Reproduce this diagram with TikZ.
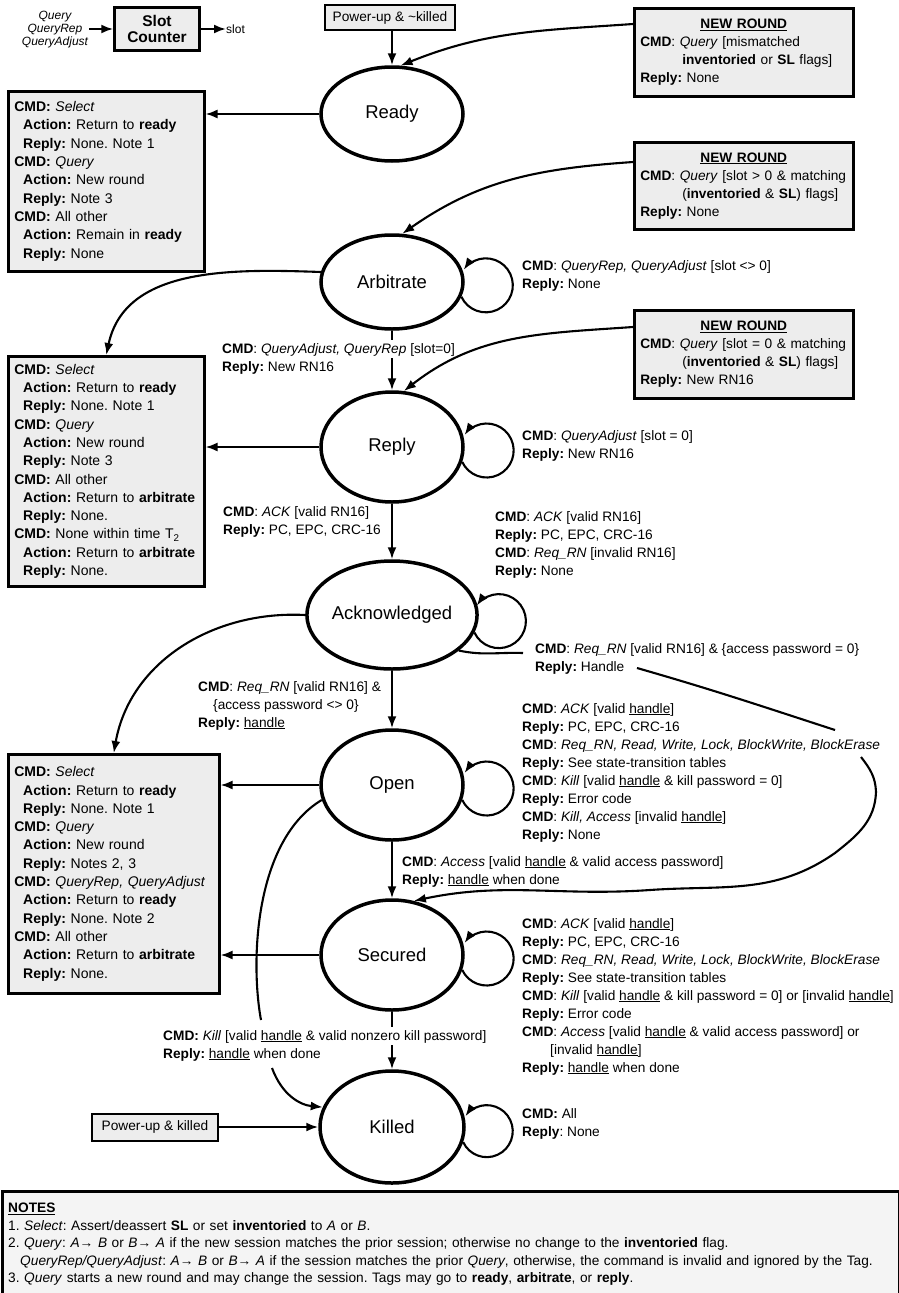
\documentclass[tikz,border=0pt]{standalone}
\usepackage{fontspec}
\setmainfont{Liberation Sans}
\usetikzlibrary{arrows.meta,shapes.geometric}
\frenchspacing
\hyphenpenalty=10000
\newcommand{\cmdb}{\textbf{CMD}}
\newcommand{\repb}{\textbf{Reply:}}
\newcommand{\actb}{\textbf{Action:}}
\newcommand{\uh}[1]{\underline{#1}}
\newcommand{\ind}{\hspace*{9pt}}
\begin{document}
\begin{tikzpicture}[x=1pt,y=1pt,
  >={Latex[length=12pt,width=9pt]},
  conn/.style={line width=2.1pt,->},
  wire/.style={line width=2.1pt},
  state/.style={ellipse,draw,line width=3.5pt,minimum width=142pt,inner sep=0pt,font=\fontsize{18.5}{20}\selectfont},
  graybox/.style={draw,line width=2.5pt,fill=gray!14,anchor=north west,align=left,inner ysep=0pt,inner xsep=6pt,font=\fontsize{14}{18.3}\selectfont},
  lbl/.style={anchor=north west,align=left,inner sep=0pt,font=\fontsize{13.7}{18}\selectfont},
  nr/.style={draw,line width=2.5pt,fill=gray!14,anchor=north west,align=left,inner ysep=0pt,inner xsep=6pt,text width=207pt,minimum width=219pt,font=\fontsize{13.7}{18}\selectfont},
  smallbox/.style={draw,line width=2pt,fill=gray!14,font=\fontsize{13.7}{16}\selectfont,inner sep=0pt},
]
\useasboundingbox (0,0) rectangle (898,-1293);

% ---------- states ----------
\node[state,minimum height=94pt] (ready) at (392,-114) {Ready};
\node[state,minimum height=94pt] (arb) at (392,-282) {Arbitrate};
\node[state,minimum height=110pt] (rep) at (392,-447) {Reply};
\node[state,minimum height=108pt] (ack) at (392,-615) {Acknowledged};
\node[state,minimum height=110pt] (open) at (392,-785) {Open};
\node[state,minimum height=110pt] (sec) at (392,-955) {Secured};
\node[state,minimum height=112pt,minimum width=144pt] (kill) at (392,-1127) {Killed};

% ---------- slot counter ----------
\node[align=center,font=\itshape\fontsize{12}{13}\selectfont,inner sep=1pt] (qin) at (55,-30) {Query\\QueryRep\\QueryAdjust};
\node[draw,line width=2.5pt,fill=gray!14,minimum width=85pt,minimum height=43pt,align=center,inner sep=0pt,font=\bfseries\fontsize{15.5}{16}\selectfont] (sc) at (157,-29) {Slot\\Counter};
\node[anchor=west,inner sep=0pt,font=\fontsize{12}{14}\selectfont] (slot) at (226,-29) {slot};
\draw[conn] (qin.east |- sc.west) -- (sc.west);
\draw[conn] (sc.east) -- (slot.west);

% ---------- power-up boxes ----------
\node[smallbox,minimum width=130pt,minimum height=25pt] (pw1) at (390,-17.5) {Power-up \& \textasciitilde killed};
\node[smallbox,minimum width=126pt,minimum height=27pt] (pw2) at (155,-1127) {Power-up \& killed};

% ---------- new round boxes ----------
\node[nr,minimum height=88pt] (nr1) at (633,-7) {\makebox[207pt][c]{\textbf{\uh{NEW ROUND}}}\\
\mbox{\cmdb: \textit{Query} [mismatched}\\
\mbox{\hspace*{42pt}\textbf{inventoried} or \textbf{SL} flags]}\\
\repb{} None};
\node[nr,minimum height=87pt] (nr2) at (633,-141) {\makebox[207pt][c]{\textbf{\uh{NEW ROUND}}}\\
\mbox{\cmdb: \textit{Query} [slot > 0 \& matching}\\
\mbox{\hspace*{42pt}(\textbf{inventoried} \& \textbf{SL}) flags]}\\
\repb{} None};
\node[nr,minimum height=88pt] (nr3) at (633,-309) {\makebox[207pt][c]{\textbf{\uh{NEW ROUND}}}\\
\mbox{\cmdb: \textit{Query} [slot = 0 \& matching}\\
\mbox{\hspace*{42pt}(\textbf{inventoried} \& \textbf{SL}) flags]}\\
\repb{} New RN16};

% ---------- left boxes ----------
\node[graybox,text width=184pt,minimum width=196pt,minimum height=180pt] (b1) at (7,-90) {\textbf{CMD:} \textit{Select}\\
\ind\actb{} Return to \textbf{ready}\\
\ind\repb{} None. Note 1\\
\textbf{CMD:} \textit{Query}\\
\ind\actb{} New round\\
\ind\repb{} Note 3\\
\textbf{CMD:} All other\\
\ind\actb{} Remain in \textbf{ready}\\
\ind\repb{} None};
\node[graybox,text width=184pt,minimum width=196pt,minimum height=230pt] (b2) at (7,-355) {\textbf{CMD:} \textit{Select}\\
\ind\actb{} Return to \textbf{ready}\\
\ind\repb{} None. Note 1\\
\textbf{CMD:} \textit{Query}\\
\ind\actb{} New round\\
\ind\repb{} Note 3\\
\textbf{CMD:} All other\\
\ind\actb{} Return to \textbf{arbitrate}\\
\ind\repb{} None.\\
\textbf{CMD:} None within time T\textsubscript{2}\\
\ind\actb{} Return to \textbf{arbitrate}\\
\ind\repb{} None.};
\node[graybox,text width=199pt,minimum width=211pt,minimum height=239pt] (b3) at (7,-753) {\textbf{CMD:} \textit{Select}\\
\ind\actb{} Return to \textbf{ready}\\
\ind\repb{} None. Note 1\\
\textbf{CMD:} \textit{Query}\\
\ind\actb{} New round\\
\ind\repb{} Notes 2, 3\\
\textbf{CMD:} \textit{QueryRep, QueryAdjust}\\
\ind\actb{} Return to \textbf{ready}\\
\ind\repb{} None. Note 2\\
\textbf{CMD:} All other\\
\ind\actb{} Return to \textbf{arbitrate}\\
\ind\repb{} None.};

% ---------- labels ----------
\node[lbl] (larb) at (522,-260) {\cmdb: \textit{QueryRep, QueryAdjust} [slot <> 0]\\\repb{} None};
\node[lbl] (lqa) at (222,-343) {\cmdb: \textit{QueryAdjust, QueryRep} [slot=0]\\\repb{} New RN16};
\node[lbl] (lrep) at (522,-430) {\cmdb: \textit{QueryAdjust} [slot = 0]\\\repb{} New RN16};
\node[lbl] (lackl) at (223,-506) {\cmdb: \textit{ACK} [valid RN16]\\\repb{} PC, EPC, CRC-16};
\node[lbl] (lackr) at (495,-511) {\cmdb: \textit{ACK} [valid RN16]\\\repb{} PC, EPC, CRC-16\\\cmdb: \textit{Req\_RN} [invalid RN16]\\\repb{} None};
\node[lbl] (lreqr) at (535,-643) {\cmdb: \textit{Req\_RN} [valid RN16] \& \{access password = 0\}\\\repb{} Handle};
\node[lbl] (lreql) at (198,-681) {\cmdb: \textit{Req\_RN} [valid RN16] \&\\\hspace*{15pt}\{access password <> 0\}\\\repb{} \uh{handle}};
\node[lbl] (lopen) at (522,-703) {\cmdb: \textit{ACK} [valid \uh{handle}]\\
\repb{} PC, EPC, CRC-16\\
\cmdb: \textit{Req\_RN, Read, Write, Lock, BlockWrite, BlockErase}\\
\repb{} See state-transition tables\\
\cmdb: \textit{Kill} [valid \uh{handle} \& kill password = 0]\\
\repb{} Error code\\
\cmdb: \textit{Kill, Access} [invalid \uh{handle}]\\
\repb{} None};
\node[lbl] (lacc) at (402,-856) {\cmdb: \textit{Access} [valid \uh{handle} \& valid access password]\\\repb{} \uh{handle} when done};
\node[lbl] (lsec) at (522,-918) {\cmdb: \textit{ACK} [valid \uh{handle}]\\
\repb{} PC, EPC, CRC-16\\
\cmdb: \textit{Req\_RN, Read, Write, Lock, BlockWrite, BlockErase}\\
\repb{} See state-transition tables\\
\cmdb: \textit{Kill} [valid \uh{handle} \& kill password = 0] or [invalid \uh{handle}]\\
\repb{} Error code\\
\cmdb: \textit{Access} [valid \uh{handle} \& valid access password] or\\
\hspace*{28pt}[invalid \uh{handle}]\\
\repb{} \uh{handle} when done};
\node[lbl] (lkill) at (163,-1030) {\textbf{CMD:} \textit{Kill} [valid \uh{handle} \& valid nonzero kill password]\\\repb{} \uh{handle} when done};
\node[lbl] (lkl) at (522,-1108) {\textbf{CMD:} All\\\textbf{Reply}: None};

% ---------- notes ----------
\node[draw,line width=2.5pt,fill=gray!9,anchor=north west,minimum width=897pt,minimum height=106pt,text width=885pt,inner xsep=6pt,inner ysep=0pt,align=left,font=\fontsize{13.7}{17.5}\selectfont] (notes) at (1,-1190) {\textbf{\uh{NOTES}}\\
1. \textit{Select}: Assert/deassert \textbf{SL} or set \textbf{inventoried} to \textit{A} or \textit{B}.\\
2. \textit{Query}: \textit{A}→ \textit{B} or \textit{B}→ \textit{A} if the new session matches the prior session; otherwise no change to the \textbf{inventoried} flag.\\
\hspace*{12pt}\textit{QueryRep/QueryAdjust}: \textit{A}→ \textit{B} or \textit{B}→ \textit{A} if the session matches the prior \textit{Query}, otherwise, the command is invalid and ignored by the Tag.\\
3. \textit{Query} starts a new round and may change the session. Tags may go to \textbf{ready}, \textbf{arbitrate}, or \textbf{reply}.};

% ---------- coordinates for broken connectors ----------
\coordinate (qa1) at (392,-340);
\coordinate (qa2) at (392,-358);
\coordinate (a1) at (523,-653);
\coordinate (a2) at (637,-668);
\coordinate (a3) at (835,-730);
\coordinate (a4) at (861,-757);
\coordinate (k1) at (392,-1027);
\coordinate (k2) at (392,-1045);
\coordinate (kc1) at (261,-1020);
\coordinate (kc2) at (272,-1068);

% ---------- connectors ----------
\draw[conn] (ready.north |- pw1.south) -- (ready.north);
\draw[conn] ([yshift=-17pt]nr1.north west) to[out=184,in=22] (ready.80);
\draw[conn] (ready.west) -- (b1.east |- ready.west);
\draw[conn] ([yshift=-21pt]nr2.north west) to[out=184,in=35] (arb.78);
\draw[conn] (arb.172) to[out=178,in=78] (b2.north);
\draw[wire] (arb.south) -- (qa1);
\draw[conn] (qa2) -- (rep.north);
\draw[conn] ([yshift=-18pt]nr3.north west) to[out=184,in=38] (rep.78);
\draw[conn] (rep.west) -- (b2.east |- rep.west);
\draw[conn] (rep.south) -- (ack.north);
\draw[conn] (ack.west) to[out=177,in=80] (b3.north);
\draw[conn] (ack.south) -- (open.north);
\draw[conn] (open.west) -- (b3.east |- open.west);
\draw[conn] (open.south) -- (sec.north);
\draw[conn] (sec.west) -- (b3.east |- sec.west);
\draw[wire] (sec.south) -- (k1);
\draw[conn] (k2) -- (kill.north);
\draw[conn] (pw2.east) -- (kill.west);
% open -> killed
\draw[wire] (open.192) .. controls (255,-840) and (250,-960) .. (kc1);
\draw[conn] (kc2) .. controls (282,-1095) and (300,-1105) .. (kill.164);
% acknowledged -> secured
\draw[wire] (ack.-28) to[out=-12,in=178] (a1);
\draw[wire] (a2) to[out=-16,in=162] (a3);
\draw[conn] (a4) to[out=-52,in=92] (876,-792) to[out=-92,in=38] (835,-853) to[out=215,in=4] (650,-890) to[out=184,in=12] (sec.68);

% ---------- self loops ----------
\draw[conn] (arb.-12) arc[start angle=205,end angle=505,radius=27pt];
\draw[conn] (rep.-12) arc[start angle=205,end angle=505,radius=27pt];
\draw[conn] (ack.-12) arc[start angle=205,end angle=505,radius=27pt];
\draw[conn] (open.-12) arc[start angle=205,end angle=505,radius=27pt];
\draw[conn] (sec.-12) arc[start angle=205,end angle=505,radius=27pt];
\draw[conn] (kill.-12) arc[start angle=205,end angle=505,radius=26pt];
\end{tikzpicture}
\end{document}
